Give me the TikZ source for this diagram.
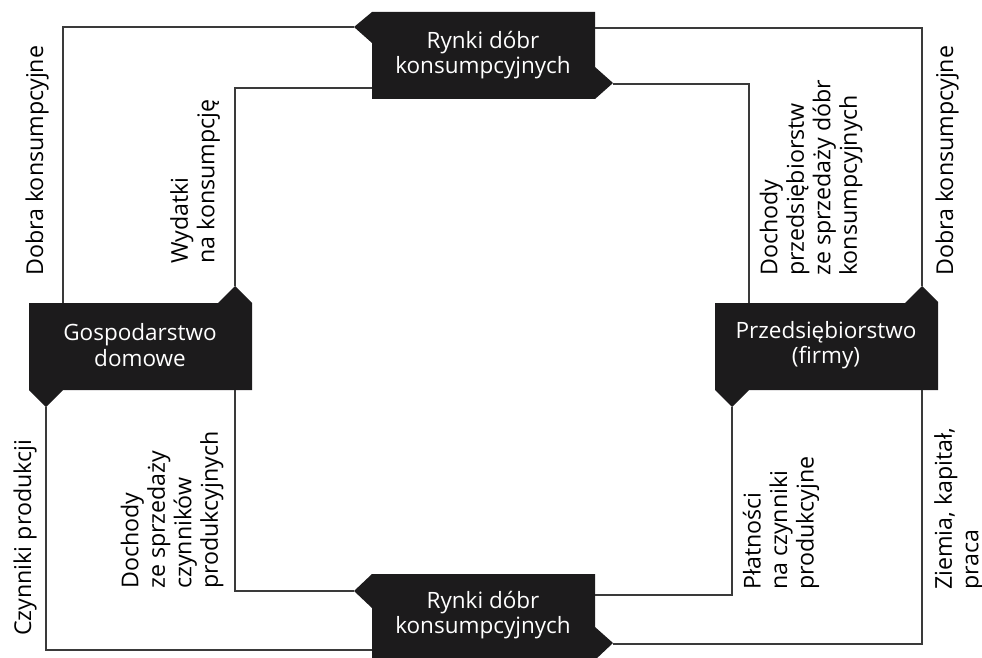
\documentclass[tikz,border=0pt]{standalone}
\usepackage{fontspec}
\setmainfont{Open Sans}
\definecolor{boxfill}{HTML}{1C1B1C}
\definecolor{linec}{HTML}{3A3A3A}
\begin{document}
\begin{tikzpicture}[x=1pt,y=-1pt,
  boxshape/.style={fill=boxfill,draw=none},
  boxtext/.style={text=white,align=center,font=\fontsize{22.5}{25.5}\selectfont,inner sep=0pt},
  flow/.style={draw=linec,line width=1.3pt},
  lab/.style={rotate=90,anchor=west,align=left,inner sep=0pt,font=\fontsize{23.2}{26.5}\selectfont,text=black}]
\useasboundingbox (0,0) rectangle (982,658);
\clip (0,0) rectangle (982,658);
% --- boxes ---
\fill[boxshape] (372,12) -- (595,12) -- (595,67) -- (613,83) -- (595,99) -- (372,99) -- (372,43) -- (354,27) -- cycle;
\fill[boxshape] (372,574) -- (595,574) -- (595,627) -- (613,643) -- (595,660) -- (372,660) -- (372,608) -- (354,591) -- cycle;
\fill[boxshape] (29,303) -- (218,303) -- (235,286) -- (252,303) -- (252,390) -- (63,390) -- (46,407) -- (29,390) -- cycle;
\fill[boxshape] (715,303) -- (905,303) -- (922,286) -- (938,302) -- (938,390) -- (749,390) -- (732,407) -- (715,390) -- cycle;
\node[boxtext] (top) at (483,55) {Rynki dóbr\\konsumpcyjnych};
\node[boxtext] (bot) at (483,615) {Rynki dóbr\\konsumpcyjnych};
\node[boxtext] (gos) at (140,345) {Gospodarstwo\\domowe};
\node[boxtext] (prz) at (826,345) {Przedsiębiorstwo\\(firmy)};
% --- anchor coordinates ---
\coordinate (topL) at (354,27);
\coordinate (topR) at (595,28);
\coordinate (topBL) at (372,88);
\coordinate (topTip) at (613,84);
\coordinate (botTip) at (354,591);
\coordinate (botBL) at (372,650);
\coordinate (botR) at (595,595);
\coordinate (botRT) at (613,644);
\coordinate (gosTop) at (235,286);
\coordinate (gosTL) at (63,303);
\coordinate (gosBot) at (46,407);
\coordinate (gosBR) at (235,390);
\coordinate (przTop) at (922,286);
\coordinate (przTL) at (749,303);
\coordinate (przBot) at (732,407);
\coordinate (przBR) at (922,390);
% --- outer loop ---
\draw[flow] (topR) -| (przTop);
\draw[flow] (przBR) |- (botRT);
\draw[flow] (botBL) -| (gosBot);
\draw[flow] (gosTL) |- (topL);
% --- inner loop ---
\draw[flow] (topBL) -| (gosTop);
\draw[flow] (gosBR) |- (botTip);
\draw[flow] (botR) -| (przBot);
\draw[flow] (przTL) |- (topTip);
% --- labels ---
\node[lab] (l1) at (37,276) {Dobra konsumpcyjne};
\node[lab] (l2) at (195,264) {Wydatki\\na konsumpcję};
\node[lab] (l3) at (811,276) {Dochody\\przedsiębiorstw\\ze sprzedaży dóbr\\konsumpcyjnych};
\node[lab] (l4) at (947,276) {Dobra konsumpcyjne};
\node[lab] (l5) at (25,636) {Czynniki produkcji};
\node[lab] (l6) at (172,589) {Dochody\\ze sprzedaży\\czynników\\produkcyjnych};
\node[lab] (l7) at (781,590) {Płatności\\na czynniki\\produkcyjne};
\node[lab] (l8) at (959,590) {Ziemia, kapitał,\\praca};
\end{tikzpicture}
\end{document}
